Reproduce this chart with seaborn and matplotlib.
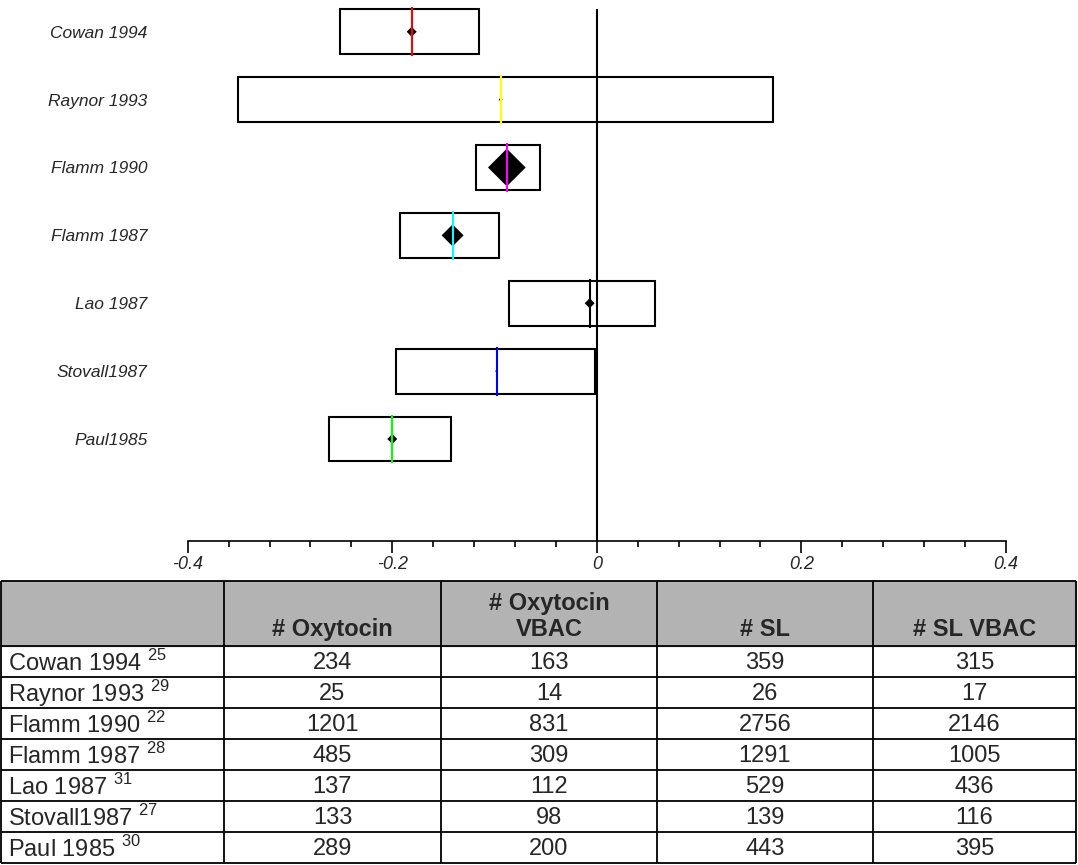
import numpy as np
import pandas as pd
import matplotlib
matplotlib.use("Agg")
import matplotlib.pyplot as plt
import seaborn as sns

# studies, top to bottom
studies = ["Cowan 1994", "Raynor 1993", "Flamm 1990", "Flamm 1987", "Lao 1987", "Stovall1987", "Paul1985"]
table_names = ["Cowan 1994", "Raynor 1993", "Flamm 1990", "Flamm 1987", "Lao 1987", "Stovall1987", "Paul 1985"]
refs = ["25", "29", "22", "28", "31", "27", "30"]
oxytocin = [234, 25, 1201, 485, 137, 133, 289]
oxytocin_vbac = [163, 14, 831, 309, 112, 98, 200]
sl = [359, 26, 2756, 1291, 529, 139, 443]
sl_vbac = [315, 17, 2146, 1005, 436, 116, 395]
headers = ["", "# Oxytocin", "# Oxytocin\nVBAC", "# SL", "# SL VBAC"]

# risk difference, interval and weight
estimate = [-0.181, -0.094, -0.088, -0.141, -0.007, -0.098, -0.200]
ci_low = [-0.251, -0.351, -0.118, -0.192, -0.086, -0.196, -0.262]
ci_high = [-0.115, 0.172, -0.056, -0.096, 0.057, -0.002, -0.143]
weight = [4.5, 0.7, 63.8, 21.7, 4.5, 0.4, 4.5]
line_colors = ["#ff0000", "#ffff00", "#ff00ff", "#00ffff", "#000000", "#0000ff", "#00ff00"]

xticks = [-0.4, -0.2, 0, 0.2, 0.4]
xtick_labels = ["-0.4", "-0.2", "0", "0.2", "0.4"]

sns.set_style("white")
plt.rcParams["font.family"] = ["Liberation Sans", "DejaVu Sans"]
plt.rcParams["mathtext.fontset"] = "custom"
plt.rcParams["mathtext.rm"] = "Liberation Sans"

df = pd.DataFrame({
    "study": studies,
    "est": estimate,
    "low": ci_low,
    "high": ci_high,
    "weight": weight,
    "y": np.arange(len(studies), 0, -1),
})

fig = plt.figure(figsize=(10.78, 8.65), dpi=100)
ax = fig.add_axes([0.1741, 0.3748, 0.7591, 0.6238])

# interval boxes
ax.barh(df["y"], df["high"] - df["low"], left=df["low"], height=0.66,
        fill=False, edgecolor="black", linewidth=1.5, zorder=2)

# point estimates, diamond area ~ weight
sizes = {s: w * 5.77 for s, w in zip(studies, weight)}
sns.scatterplot(data=df, x="est", y="y", size="study", sizes=sizes, marker="D",
                color="black", linewidth=0, legend=False, ax=ax, zorder=3)

ax.vlines(df["est"], df["y"] - 0.36, df["y"] + 0.36, colors=line_colors,
          linewidth=1.5, zorder=4)
ax.vlines(0, -0.5, 7.33, color="black", linewidth=1.5, zorder=1)

ax.set_xlim(-0.4, 0.4)
ax.set_ylim(-0.5, 7.45)
ax.set_xlabel("")
ax.set_ylabel("")
for side in ["top", "right", "left"]:
    ax.spines[side].set_visible(False)
ax.spines["bottom"].set_linewidth(1.2)
ax.spines["bottom"].set_color("black")

ax.set_yticks(df["y"])
ax.set_yticklabels(studies, fontstyle="italic", fontsize=12.5)
ax.tick_params(axis="y", length=0, pad=29)

ax.set_xticks(xticks)
ax.set_xticklabels(xtick_labels, fontstyle="italic", fontsize=13)
ax.set_xticks(np.arange(-0.36, 0.4, 0.04), minor=True)
ax.tick_params(axis="x", which="major", length=8.6, width=1.2, pad=2.5,
               direction="out", bottom=True, color="black")
ax.tick_params(axis="x", which="minor", length=4.3, width=1.2,
               direction="out", bottom=True, color="black")

# table underneath
tab = fig.add_axes([0, 0, 1, 287 / 865])
tab.set_xlim(0, 1078)
tab.set_ylim(865, 578)
tab.axis("off")

col_edges = [1, 224, 441, 657, 873, 1076]
head_top, head_bot, row_h = 581, 646, 31
n = len(table_names)
row_edges = [head_bot + row_h * i for i in range(n + 1)]

tab.fill_between([col_edges[0], col_edges[-1]], head_top, head_bot, color="#b3b3b3", zorder=0)
tab.hlines([head_top] + row_edges, col_edges[0], col_edges[-1], color="black", linewidth=1.3)
tab.vlines(col_edges, head_top, row_edges[-1], color="black", linewidth=1.3)

centers = [(a + b) / 2 for a, b in zip(col_edges[:-1], col_edges[1:])]
for c, h in zip(centers, headers):
    if h:
        tab.text(c, 641, h, ha="center", va="bottom", fontsize=17,
                 fontweight="bold", linespacing=1.15)

columns = [oxytocin, oxytocin_vbac, sl, sl_vbac]
for i, name in enumerate(table_names):
    yc = head_bot + row_h * i + row_h / 2
    tab.text(8, yc + 1.5, f"{name} $^{{{refs[i]}}}$", ha="left", va="center", fontsize=17)
    for c, vals in zip(centers[1:], columns):
        tab.text(c, yc + 1.5, str(vals[i]), ha="center", va="center", fontsize=17)

fig.savefig("out.png", dpi=100)
